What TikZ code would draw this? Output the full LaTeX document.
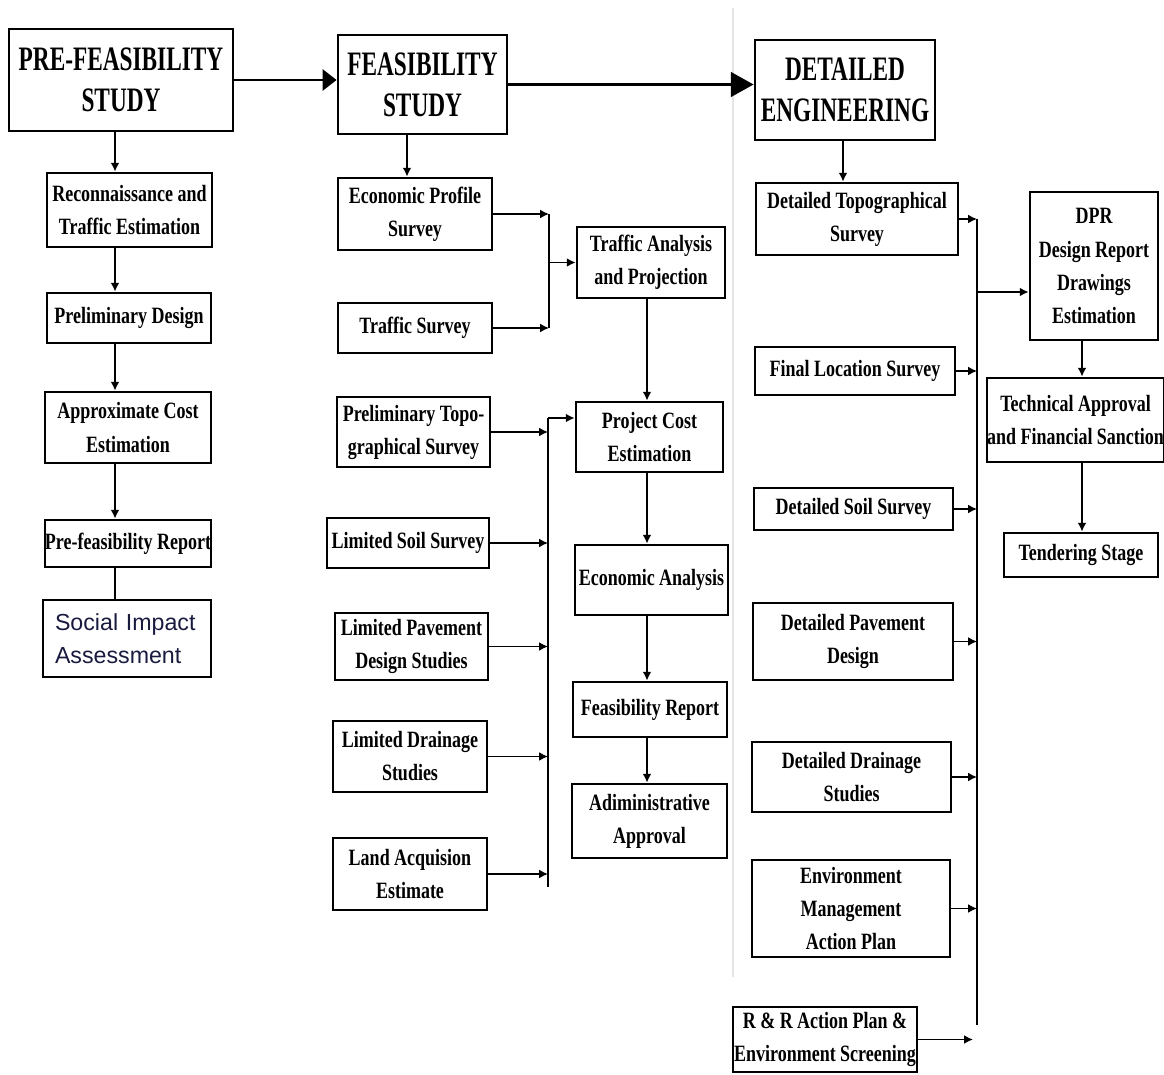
\documentclass[tikz,border=0pt]{standalone}
\usepackage{fontspec}
\setmainfont{Liberation Serif}[FakeStretch=0.77]
\newfontfamily\headfont{Liberation Serif}[FakeStretch=0.68]
\newfontfamily\siafont{Liberation Sans}
\usetikzlibrary{arrows.meta,calc}

\definecolor{sianavy}{RGB}{24,26,62}

\tikzset{
  box/.style={draw, line width=1.6pt, inner sep=0pt, align=center,
    font=\bfseries\fontsize{13.3}{18.8}\selectfont},
  headbox/.style={box, font=\headfont\bfseries\fontsize{19.5}{23.5}\selectfont},
  siabox/.style={draw, line width=0.9pt, text width=2.88cm, inner xsep=0.24cm,
    inner ysep=0pt, align=left, text=sianavy,
    font=\siafont\fontsize{13.2}{18.8}\selectfont},
  wh/.style 2 args={minimum width=#1*0.02cm, minimum height=#2*0.02cm},
  flow/.style={line width=0.9pt, -{Latex[length=5pt,width=5pt]}},
  link/.style={line width=0.9pt},
  stagearrow/.style={line width=1.7pt, -{Triangle[length=8pt,width=12pt]}},
  bigarrow/.style={line width=1.7pt, -{Triangle[length=13pt,width=14pt]}}
}

\begin{document}
\begin{tikzpicture}[x=0.02cm, y=-0.02cm]
        \useasboundingbox (0,0) rectangle (1164,1075);

        % scanned page edge
        \draw[gray!20, line width=0.6pt] (733,8) -- (733,977);

        % pre-feasibility
        \node[headbox, wh={224}{102}] (pre)    at (121,80)    {PRE-FEASIBILITY\\STUDY};
        \node[box, wh={165}{74}]      (recon)  at (129.5,210) {Reconnaissance and\\Traffic Estimation};
        \node[box, wh={164}{50}]      (prelim) at (129,318)   {Preliminary Design};
        \node[box, wh={166}{71}]      (approx) at (128,427.5) {Approximate Cost\\Estimation};
        \node[box, wh={166}{47}]      (prerep) at (128,543.5) {Pre-feasibility Report};
        \node[siabox, wh={168}{77}]   (social) at (127,638.5) {Social Impact\\Assessment};

        % feasibility
        \node[headbox, wh={169}{99}]  (feas)   at (422.5,84.5) {FEASIBILITY\\STUDY};
        \node[box, wh={154}{72}]      (econ)   at (415,214)    {Economic Profile\\Survey};
        \node[box, wh={154}{50}]      (tsurv)  at (415,328)    {Traffic Survey};
        \node[box, wh={153}{70}]      (ptopo)  at (413.5,432)  {Preliminary Topo-\\graphical Survey};
        \node[box, wh={162}{50}]      (lsoil)  at (408,543)    {Limited Soil Survey};
        \node[box, wh={153}{67}]      (lpave)  at (411.5,646.5) {Limited Pavement\\Design Studies};
        \node[box, wh={154}{71}]      (ldrain) at (410,756.5)  {Limited Drainage\\Studies};
        \node[box, wh={154}{72}]      (land)   at (410,874)    {Land Acquision\\Estimate};
        \node[box, wh={148}{71}]      (tanal)  at (651,262.5)  {Traffic Analysis\\and Projection};
        \node[box, wh={147}{70}]      (pcost)  at (649.5,437)  {Project Cost\\Estimation};
        \node[box, wh={153}{70}]      (econa)  at (651.5,580)  {Economic Analysis};
        \node[box, wh={154}{55}]      (frep)   at (650,709.5)  {Feasibility Report};
        \node[box, wh={155}{74}]      (admin)  at (649.5,821)  {Adiministrative\\Approval};

        % detailed engineering
        \node[headbox, wh={180}{100}] (det)    at (845,90)     {DETAILED\\ENGINEERING};
        \node[box, wh={202}{72}]      (dtopo)  at (857,219)    {Detailed Topographical\\Survey};
        \node[box, wh={200}{48}]      (floc)   at (855,371)    {Final Location Survey};
        \node[box, wh={199}{42}]      (dsoil)  at (853.5,509)  {Detailed Soil Survey};
        \node[box, wh={200}{77}]      (dpave)  at (853,641.5)  {Detailed Pavement\\Design};
        \node[box, wh={199}{70}]      (ddrain) at (851.5,777)  {Detailed Drainage\\Studies};
        \node[box, wh={198}{97}]      (env)    at (851,908.5)  {Environment\\Management\\Action Plan};
        \node[box, wh={184}{65}]      (rr)     at (825,1039.5) {R \& R Action Plan \&\\Environment Screening};
        \node[box, wh={128}{148}]     (dpr)    at (1094,266)   {DPR\\Design Report\\Drawings\\Estimation};
        \node[box, wh={175}{84}]      (tech)   at (1075.5,420) {Technical Approval\\and Financial Sanction};
        \node[box, wh={154}{44}]      (tender) at (1081,555)   {Tendering Stage};

        % spines and buses
        \coordinate (c1)    at (115,0);
        \coordinate (c2)    at (407,0);
        \coordinate (c3)    at (647,0);
        \coordinate (c4)    at (843,0);
        \coordinate (c5)    at (1082,0);
        \coordinate (b1)    at (549,0);
        \coordinate (b2top) at (548,418);
        \coordinate (b2end) at (548,887);
        \coordinate (b3)    at (977,0);
        \coordinate (b3dpr) at (977,292);
        \coordinate (b3end) at (977,1025);
        \coordinate (rrend) at (973,1040);

        \draw[stagearrow] (pre.east)  -- (pre.east -| feas.west);
        \draw[bigarrow]   (feas.east) -- (feas.east -| det.west);

        \draw[flow] (pre.south -| c1)    -- (recon.north -| c1);
        \draw[flow] (recon.south -| c1)  -- (prelim.north -| c1);
        \draw[flow] (prelim.south -| c1) -- (approx.north -| c1);
        \draw[flow] (approx.south -| c1) -- (prerep.north -| c1);
        \draw[link] (prerep.south -| c1) -- (social.north -| c1);

        \draw[flow] (feas.south -| c2) -- (econ.north -| c2);
        \draw[flow] (econ.east)  -- (econ.east -| b1);
        \draw[flow] (tsurv.east) -- (tsurv.east -| b1);
        \draw[link] (econ.east -| b1) -- (tsurv.east -| b1);
        \draw[flow] (tanal.west -| b1) -- (tanal.west);

        \draw[link] (b2top) -- (b2end);
        \draw[flow] (b2top) -- (b2top -| pcost.west);
        \foreach \n in {ptopo,lsoil,lpave,ldrain,land}
            \draw[flow] (\n.east) -- (\n.east -| b2top);

        \draw[flow] (tanal.south -| c3) -- (pcost.north -| c3);
        \draw[flow] (pcost.south -| c3) -- (econa.north -| c3);
        \draw[flow] (econa.south -| c3) -- (frep.north -| c3);
        \draw[flow] (frep.south -| c3)  -- (admin.north -| c3);

        \draw[flow] (det.south -| c4) -- (dtopo.north -| c4);
        \draw[link] (dtopo.east -| b3) -- (b3end);
        \foreach \n in {dtopo,floc,dsoil,dpave,ddrain,env}
            \draw[flow] (\n.east) -- (\n.east -| b3);
        \draw[flow] (rr.east) -- (rr.east -| rrend);
        \draw[flow] (b3dpr) -- (b3dpr -| dpr.west);

        \draw[flow] (dpr.south -| c5)  -- (tech.north -| c5);
        \draw[flow] (tech.south -| c5) -- (tender.north -| c5);
\end{tikzpicture}
\end{document}
